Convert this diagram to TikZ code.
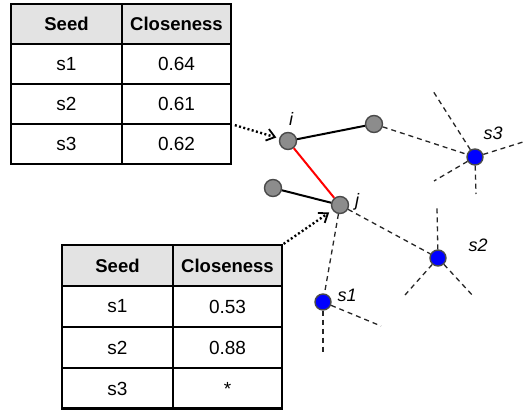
\documentclass[tikz,border=0pt]{standalone}
\usepackage{fontspec}
\setmainfont{Liberation Sans}
\usetikzlibrary{arrows.meta}
\definecolor{hdrgray}{HTML}{E3E3E3}
\definecolor{nodegray}{HTML}{8C8C8C}
\definecolor{rimgray}{HTML}{4A4A4A}
\begin{document}
\begin{tikzpicture}[x=1pt,y=-1pt,
  cell/.style={draw=black, line width=1.6pt, inner sep=0pt, outer sep=0pt,
    minimum height=40pt, font=\fontsize{19}{22}\selectfont},
  colA/.style={cell, minimum width=111pt},
  colB/.style={cell, minimum width=109pt},
  hdr/.style={fill=hdrgray, font=\fontsize{18.5}{22}\selectfont\bfseries},
  outline/.style={draw=black, line width=2.2pt},
  gnode/.style={circle, fill=nodegray, draw=rimgray, line width=1.4pt, minimum size=17pt, inner sep=0pt},
  bnode/.style={circle, fill=blue, draw=rimgray, line width=1.4pt, minimum size=16pt, inner sep=0pt},
  lbl/.style={font=\fontsize{18}{20}\selectfont\itshape, inner sep=0pt},
  solidedge/.style={line width=2pt},
  ray/.style={draw=black!85, line width=1.3pt, dash pattern=on 5pt off 4pt},
  pointer/.style={line width=2.4pt, dash pattern=on 2pt off 2.4pt,
    -{Straight Barb[length=8pt, width=12pt, line width=1.8pt]}}
]
\useasboundingbox (0,0) rectangle (526,410);

% ---- table 1 ----
\node[colA,hdr] (a00) at (66.5,24) {Seed};
\node[colB,hdr] (a01) at (176.5,24) {Closeness};
\node[colA] (a10) at (66.5,64) {s1};
\node[colB] (a11) at (176.5,64) {0.64};
\node[colA] (a20) at (66.5,104) {s2};
\node[colB] (a21) at (176.5,104) {0.61};
\node[colA] (a30) at (66.5,144) {s3};
\node[colB] (a31) at (176.5,144) {0.62};
\draw[outline] (a00.north west) rectangle (a31.south east);

% ---- table 2 ----
\node[colA,hdr,minimum height=41pt] (b00) at (117.5,265.5) {Seed};
\node[colB,hdr,minimum height=41pt] (b01) at (227.5,265.5) {Closeness};
\node[colA,minimum height=41pt] (b10) at (117.5,306.5) {s1};
\node[colB,minimum height=41pt] (b11) at (227.5,306.5) {0.53};
\node[colA,minimum height=41pt] (b20) at (117.5,347.5) {s2};
\node[colB,minimum height=41pt] (b21) at (227.5,347.5) {0.88};
\node[colA,minimum height=40pt] (b30) at (117.5,388.5) {s3};
\node[colB,minimum height=40pt] (b31) at (227.5,388.5) {*};
\draw[outline] (b00.north west) rectangle (b31.south east);

% ---- graph nodes ----
\node[gnode] (i) at (288,141) {};
\node[gnode] (r) at (374,124) {};
\node[gnode] (l) at (273,188) {};
\node[gnode] (j) at (340,205) {};
\node[bnode] (s3) at (475,157) {};
\node[bnode] (s2) at (438,258) {};
\node[bnode] (s1) at (323,302) {};

% labels
\node[lbl] (li) at (291,119) {i};
\node[lbl] (lj) at (357,202) {j};
\node[lbl] (ls3) at (493,133) {s3};
\node[lbl] (ls2) at (478,245) {s2};
\node[lbl] (ls1) at (347,295) {s1};

% ray end points
\coordinate (s3a) at (433,91);
\coordinate (s3b) at (434,181);
\coordinate (s3c) at (476,194);
\coordinate (s3d) at (523,142);
\coordinate (s2a) at (437,208);
\coordinate (s2b) at (405,295);
\coordinate (s2c) at (474,297);
\coordinate (s1a) at (381,326);
\coordinate (s1b) at (323,353);

% dashed rays
\draw[ray] (r) -- (s3);
\draw[ray] (s3) -- (s3a);
\draw[ray] (s3) -- (s3b);
\draw[ray] (s3) -- (s3c);
\draw[ray] (s3) -- (s3d);
\draw[ray] (j) -- (s2);
\draw[ray] (s2) -- (s2a);
\draw[ray] (s2) -- (s2b);
\draw[ray] (s2) -- (s2c);
\draw[ray] (j) -- (s1);
\draw[ray] (s1) -- (s1a);
\draw[ray] (s1) -- (s1b);

% solid edges
\draw[solidedge] (i) -- (r);
\draw[solidedge] (l) -- (j);
\draw[solidedge, red] (i) -- (j);

% pointers
\draw[pointer, shorten <=4pt, shorten >=3pt] (a31.north east) -- (i);
\draw[pointer, shorten <=2pt, shorten >=4pt] (b01.north east) -- (j);
\end{tikzpicture}
\end{document}
